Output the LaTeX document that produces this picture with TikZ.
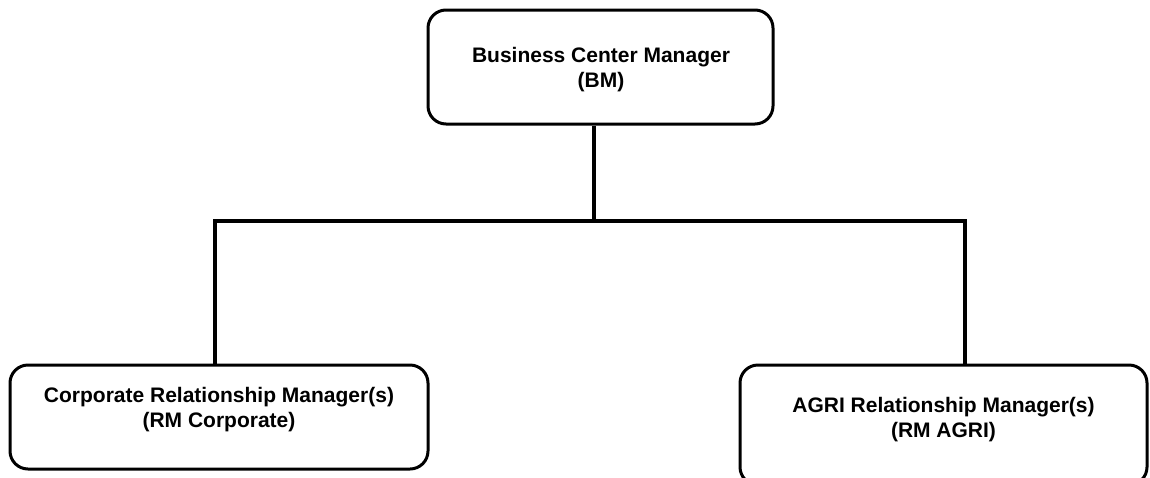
\documentclass[tikz,border=0pt]{standalone}
\usepackage{fontspec}
\setmainfont{Liberation Sans}
\begin{document}
\begin{tikzpicture}[x=1pt,y=-1pt,
  box/.style={draw, line width=3pt, rounded corners=18pt, inner sep=0pt},
  lbl/.style={font=\bfseries\fontsize{21}{25}\selectfont, align=center, inner sep=0pt},
  conn/.style={line width=4pt, line join=miter}]
\useasboundingbox (0,0) rectangle (1150,477);
\clip (0,0) rectangle (1150,477);
\node[box, minimum width=345pt, minimum height=114pt] (bm) at (600.5,67) {};
\node[box, minimum width=418pt, minimum height=104pt] (crm) at (219,417) {};
\node[box, minimum width=407pt, minimum height=120pt] (arm) at (943.5,425) {};
\node[lbl] (bmt) at (601,69.5) {Business Center Manager\\(BM)};
\node[lbl] (crmt) at (219,409.5) {Corporate Relationship Manager(s)\\(RM Corporate)};
\node[lbl] (armt) at (943.5,419.5) {AGRI Relationship Manager(s)\\(RM AGRI)};
\coordinate (j) at (594,221);
\coordinate (jl) at (215,221);
\coordinate (jr) at (965,221);
\draw[conn] (bm.south -| j) -- (j);
\draw[conn] (crm.north -| jl) -- (jl) -- (jr) -- (arm.north -| jr);
\end{tikzpicture}
\end{document}
